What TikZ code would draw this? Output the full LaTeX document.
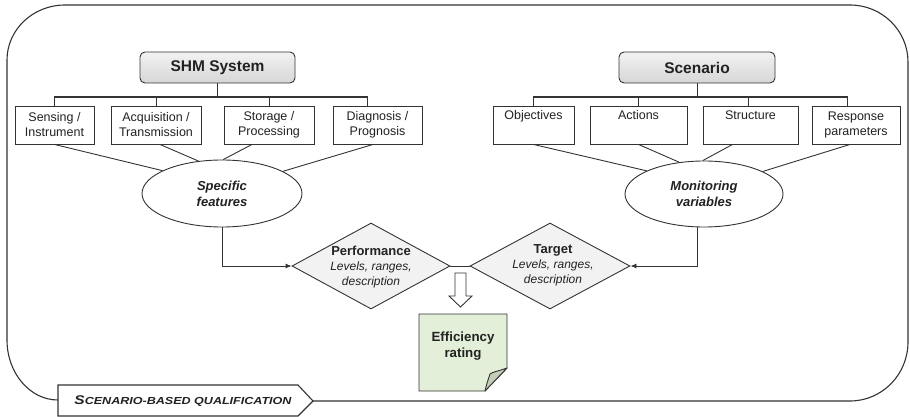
\documentclass[tikz,border=0pt]{standalone}
\usepackage{fontspec}
\usepackage{graphicx}
\setmainfont{Liberation Sans}
\usetikzlibrary{shapes.geometric,arrows.meta}
\definecolor{ln}{HTML}{333333}
\definecolor{txt}{HTML}{222222}
\definecolor{diafill}{HTML}{F2F2F2}
\definecolor{notefill}{HTML}{E3EFD9}
\definecolor{foldfill}{HTML}{C3CCB7}
\begin{document}
\begin{tikzpicture}[x=1pt,y=-1pt,
  every node/.style={text=txt},
  frame/.style={draw=ln,line width=1.1pt},
  head/.style={draw=ln,line width=0.9pt,rounded corners=5pt,top color=gray!10,bottom color=gray!32,
    minimum height=31pt,inner sep=0pt,font=\fontsize{15.5}{18}\selectfont\bfseries},
  item/.style={draw=ln,line width=0.9pt,fill=white,minimum height=38pt,inner sep=0pt,align=center,
    font=\fontsize{12.5}{15}\selectfont},
  ell/.style={ellipse,draw=ln,line width=0.9pt,fill=white,minimum width=160pt,minimum height=67pt,inner sep=0pt,
    align=center,font=\fontsize{13}{16}\selectfont\bfseries\itshape},
  dia/.style={diamond,draw=ln,line width=0.9pt,fill=diafill,minimum width=158pt,minimum height=86pt,inner sep=-30pt},
  diatext/.style={align=center,inner sep=0pt,font=\fontsize{12}{15}\selectfont\itshape},
  conn/.style={draw=ln,line width=0.9pt},
  bus/.style={draw=ln,line width=2pt,line cap=rect},
  tip/.style={-{Latex[length=6pt,width=5pt]}}
]
\useasboundingbox (0,0) rectangle (910,417);

% outer frame
\draw[frame] (58,400) .. controls (29.8,400) and (7,373) .. (7,340) -- (7,60)
  .. controls (7,29.6) and (33,5) .. (65,5) -- (850,5)
  .. controls (882,5) and (908,30.5) .. (908,62) -- (908,342)
  .. controls (908,374.6) and (882,401) .. (850,401) -- (313,401);

% headings
\node[head,minimum width=155pt] (shm) at (217.5,67.5) {SHM System};
\node[head,minimum width=156pt] (scen) at (697,67.5) {Scenario};

% left items
\node[item,minimum width=79pt] (b1) at (54.5,125) {Sensing /\\Instrument};
\node[item,minimum width=90pt] (b2) at (156,125) {Acquisition /\\Transmission};
\node[item,minimum width=90pt] (b3) at (269,125) {Storage /\\Processing};
\node[item,minimum width=89pt] (b4) at (377.5,125) {Diagnosis /\\Prognosis};
% right items
\node[item,minimum width=81pt] (r1) at (533.5,125) {Objectives\\\strut};
\node[item,minimum width=97pt] (r2) at (638.5,125) {Actions\\\strut};
\node[item,minimum width=95pt] (r3) at (750.5,125) {Structure\\\strut};
\node[item,minimum width=88pt] (r4) at (856,125) {Response\\parameters};

\coordinate (bus) at (0,97);
\coordinate (b4d) at ([xshift=-10.5pt]b4.north);
\coordinate (r3d) at ([xshift=-2.5pt]r3.north);
\coordinate (r4d) at ([xshift=-9pt]r4.north);

% left tree
\draw[bus] (b1.north |- bus) -- (b4d |- bus);
\draw[conn] (shm.south) -- (shm.south |- bus);
\draw[conn] (b1.north) -- (b1.north |- bus);
\draw[conn] (b2.north) -- (b2.north |- bus);
\draw[conn] (b3.north) -- (b3.north |- bus);
\draw[conn] (b4d) -- (b4d |- bus);
% right tree
\draw[bus] (r1.north |- bus) -- (r4d |- bus);
\draw[conn] (scen.south) -- (scen.south |- bus);
\draw[conn] (r1.north) -- (r1.north |- bus);
\draw[conn] (r2.north) -- (r2.north |- bus);
\draw[conn] (r3d) -- (r3d |- bus);
\draw[conn] (r4d) -- (r4d |- bus);

% ellipses
\node[ell] (sf) at (222,193.5) {Specific\\features};
\node[ell,minimum width=158pt,minimum height=66pt] (mv) at (704,194) {Monitoring\\variables};

\draw[conn] (b1.south) -- (sf.159);
\draw[conn] ([xshift=4pt]b2.south) -- (sf.126);
\draw[conn] ([xshift=-17pt]b3.south) -- (sf.88);
\draw[conn] ([xshift=-4.5pt]b4.south) -- (sf.20);

\draw[conn] (r1.south) -- (mv.158);
\draw[conn] (r2.south) -- (mv.128);
\draw[conn] ([xshift=-18pt]r3.south) -- (mv.92);
\draw[conn] ([xshift=-6pt]r4.south) -- (mv.21);

% diamonds
\node[dia] (perf) at (371,266) {};
\node[dia,minimum width=160pt] (targ) at (550,266) {};
\node[diatext] (perft) at (371,267) {{\bfseries\upshape\fontsize{13}{15}\selectfont Performance}\\Levels, ranges,\\description};
\node[diatext] (targt) at (553,265) {{\bfseries\upshape\fontsize{13}{15}\selectfont Target}\\Levels, ranges,\\description};

\draw[conn] (perf.east) -- (targ.west);
\draw[conn,tip] (sf.south) |- (perf.west);
\coordinate (mvd) at ([xshift=-7pt]mv.south);
\draw[conn,tip] (mvd) |- (targ.east);

% block arrow
\draw[conn,fill=white] (455,273) -- (466,273) -- (466,296) -- (472,296) -- (460.5,307) -- (449,296) -- (455,296) -- cycle;

% efficiency note
\draw[conn,fill=notefill] (419,314) -- (507,314) -- (507,368) -- (485,391) -- (419,391) -- cycle;
\draw[conn,fill=foldfill,line join=round] (507,368) .. controls (499,371) and (492,372) .. (490,374) .. controls (488,380) and (486,386) .. (485,391) -- cycle;
\node[align=center,inner sep=0pt,font=\fontsize{13.3}{16.5}\selectfont\bfseries] (eff) at (463,346) {Efficiency\\rating};

% tab
\draw[frame,fill=white] (58,385) -- (298,385) -- (313,401) -- (298,416) -- (58,416) -- cycle;
\node[inner sep=0pt] (tab) at (183,401) {\scalebox{1.23}[1]{\bfseries\itshape\fontsize{12.6}{14}\selectfont S\fontsize{10.2}{14}\selectfont CENARIO-BASED QUALIFICATION}};
\end{tikzpicture}
\end{document}
